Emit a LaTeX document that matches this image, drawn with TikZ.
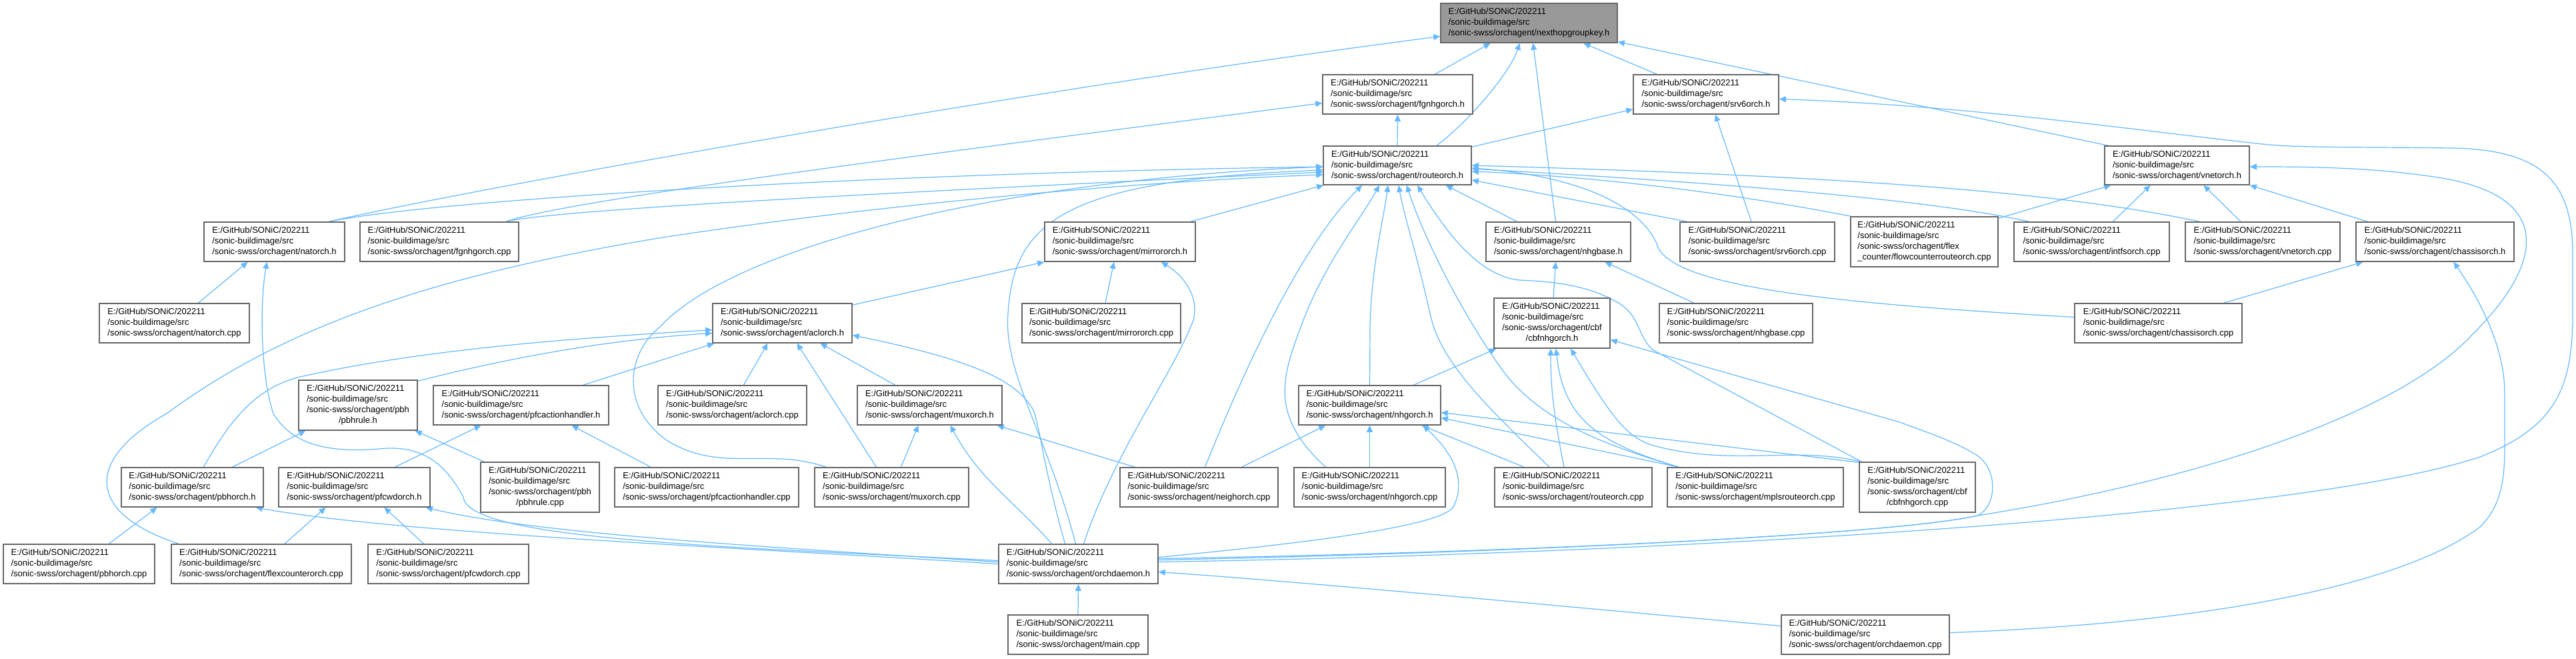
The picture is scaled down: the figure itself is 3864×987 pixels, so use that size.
\documentclass[tikz,border=0pt]{standalone}
\usepackage{fontspec}
\setmainfont{Liberation Sans}
\usetikzlibrary{arrows.meta}
\definecolor{edgeblue}{RGB}{99,184,255}
\definecolor{nodeborder}{RGB}{102,102,102}
\definecolor{rootfill}{RGB}{153,153,153}
\pgfdeclarelayer{bg}
\pgfsetlayers{bg,main}
\newcommand\three[1]{\begin{tabular}{@{}l@{}}E:/GitHub/SONiC/202211\\/sonic-buildimage/src\\/sonic-swss/orchagent/#1\end{tabular}}
\newcommand\four[2]{\begin{tabular}{@{}l@{}}E:/GitHub/SONiC/202211\\/sonic-buildimage/src\\/sonic-swss/orchagent/#1\\\multicolumn{1}{@{}c@{}}{#2}\end{tabular}}
\newcommand\nd[7][]{\pgfmathsetmacro\ndw{(#5-#3)*0.5}\pgfmathsetmacro\ndh{(#6-#4)*0.5}\node[nbox,#1,minimum width=\ndw pt,minimum height=\ndh pt] (#2) at ({(#3+#5)/2},{(#4+#6)/2}) {#7};}
\begin{document}
\begin{tikzpicture}[x=0.5pt,y=-0.5pt,
  nbox/.style={rectangle,draw=nodeborder,fill=white,line width=0.8pt,inner sep=0pt,font=\fontsize{6.5}{8}\selectfont},
  rootnode/.style={fill=rootfill},
  link/.style={draw=edgeblue,line width=0.6pt,-{Triangle[length=5pt,width=4.5pt]}}]
\useasboundingbox (0,0) rectangle (3864,987);
\nd[rootnode]{key}{2161}{5}{2426}{64}{\three{nexthopgroupkey.h}}
\nd{fgnhgh}{1984}{112}{2209}{171}{\three{fgnhgorch.h}}
\nd{srv6h}{2450}{112}{2668}{171}{\three{srv6orch.h}}
\nd{routeh}{1985}{219}{2207}{277}{\three{routeorch.h}}
\nd{vneth}{3157}{219}{3374}{277}{\three{vnetorch.h}}
\nd{nath}{306}{333}{517}{392}{\three{natorch.h}}
\nd{fgnhgcpp}{540}{333}{778}{392}{\three{fgnhgorch.cpp}}
\nd{mirrorh}{1567}{333}{1793}{392}{\three{mirrororch.h}}
\nd{nhgbaseh}{2229}{333}{2446}{392}{\three{nhgbase.h}}
\nd{srv6cpp}{2520}{333}{2752}{392}{\three{srv6orch.cpp}}
\nd{flexroute}{2776}{325}{2997}{400}{\four{flex}{\_counter/flowcounterrouteorch.cpp}}
\nd{intfscpp}{3021}{333}{3254}{392}{\three{intfsorch.cpp}}
\nd{vnetcpp}{3278}{333}{3510}{392}{\three{vnetorch.cpp}}
\nd{chassish}{3534}{333}{3771}{392}{\three{chassisorch.h}}
\nd{natcpp}{149}{455}{374}{514}{\three{natorch.cpp}}
\nd{aclh}{1069}{455}{1278}{514}{\three{aclorch.h}}
\nd{mirrorcpp}{1533}{455}{1771}{514}{\three{mirrororch.cpp}}
\nd{cbfh}{2241}{447}{2415}{522}{\four{cbf}{/cbfnhgorch.h}}
\nd{nhgbasecpp}{2489}{455}{2719}{514}{\three{nhgbase.cpp}}
\nd{chassiscpp}{3112}{455}{3363}{514}{\three{chassisorch.cpp}}
\nd{pbhruleh}{448}{570}{626}{645}{\four{pbh}{/pbhrule.h}}
\nd{pfcacth}{650}{578}{913}{637}{\three{pfcactionhandler.h}}
\nd{aclcpp}{987}{578}{1210}{637}{\three{aclorch.cpp}}
\nd{muxh}{1286}{578}{1503}{637}{\three{muxorch.h}}
\nd{nhgorchh}{1948}{578}{2161}{637}{\three{nhgorch.h}}
\nd{pbhorchh}{182}{701}{395}{760}{\three{pbhorch.h}}
\nd{pfcwdh}{418}{701}{645}{760}{\three{pfcwdorch.h}}
\nd{pbhrulecpp}{721}{693}{899}{768}{\four{pbh}{/pbhrule.cpp}}
\nd{pfcactcpp}{922}{701}{1198}{760}{\three{pfcactionhandler.cpp}}
\nd{muxcpp}{1222}{701}{1453}{760}{\three{muxorch.cpp}}
\nd{neighcpp}{1680}{701}{1917}{760}{\three{neighorch.cpp}}
\nd{nhgcpp}{1941}{701}{2168}{760}{\three{nhgorch.cpp}}
\nd{routecpp}{2242}{701}{2478}{760}{\three{routeorch.cpp}}
\nd{mplscpp}{2501}{701}{2765}{760}{\three{mplsrouteorch.cpp}}
\nd{cbfcpp}{2789}{693}{2963}{768}{\four{cbf}{/cbfnhgorch.cpp}}
\nd{pbhcpp}{5}{816}{232}{875}{\three{pbhorch.cpp}}
\nd{flexcntcpp}{257}{816}{527}{875}{\three{flexcounterorch.cpp}}
\nd{pfcwdcpp}{552}{816}{793}{875}{\three{pfcwdorch.cpp}}
\nd{orchdh}{1498}{816}{1737}{875}{\three{orchdaemon.h}}
\nd{maincpp}{1512}{922}{1722}{981}{\three{main.cpp}}
\nd{orchdcpp}{2672}{922}{2924}{981}{\three{orchdaemon.cpp}}
\begin{pgfonlayer}{bg}
% into nexthopgroupkey.h
\draw[link] ([shift={(82,0)}]nath.north) .. controls (700,285) and (1500,140) .. ([shift={(0,20)}]key.west);
\draw[link] ([shift={(56,0)}]fgnhgh.north) -- ([shift={(-58,0)}]key.south);
\draw[link] ([shift={(59,0)}]routeh.north) .. controls (2200,185) and (2265,110) .. ([shift={(-14,0)}]key.south);
\draw[link] ([shift={(-4,0)}]nhgbaseh.north) -- ([shift={(6,0)}]key.south);
\draw[link] ([shift={(-74,0)}]srv6h.north) -- ([shift={(82,0)}]key.south);
\draw[link] ([shift={(6,0)}]vneth.north west) -- ([shift={(0,-2)}]key.south east);
% routeorch.h outgoing
\draw[link] (routeh.north) -- (fgnhgh.south);
\draw[link] ([shift={(0,2)}]routeh.north east) -- ([shift={(0,-8)}]srv6h.south west);
% into srv6orch.h
\draw[link] ([shift={(-9,0)}]srv6cpp.north) -- ([shift={(14,0)}]srv6h.south);
\draw[link] ([shift={(0,-3)}]orchdh.east) .. controls (2500,830) and (3450,775) .. (3720,685) .. controls (3835,640) and (3859,580) .. (3859,470) -- (3859,380) .. controls (3859,270) and (3810,225) .. (3680,222) .. controls (3520,220) and (3440,222) .. (3385,215) .. controls (3200,195) and (2950,158) .. ([shift={(0,7)}]srv6h.east);
% into routeorch.h
\draw[link] ([shift={(82,0)}]nath.north) .. controls (650,300) and (1300,260) .. ([shift={(0,2)}]routeh.west);
\draw[link] ([shift={(100,0)}]fgnhgcpp.north) .. controls (850,300) and (1400,230) .. ([shift={(0,13)}]fgnhgh.west);
\draw[link] ([shift={(100,0)}]fgnhgcpp.north) .. controls (830,315) and (1300,290) .. ([shift={(0,10)}]routeh.west);
\draw[link] ([shift={(-124,0)}]flexcntcpp.north) .. controls (130,770) and (125,690) .. (250,620) .. controls (400,510) and (600,420) .. (1000,355) .. controls (1400,295) and (1800,268) .. ([shift={(0,14)}]routeh.west);
\draw[link] ([shift={(-4,0)}]orchdh.north) .. controls (1570,650) and (1505,560) .. (1512,470) .. controls (1520,330) and (1600,270) .. ([shift={(0,7)}]routeh.west);
\draw[link] ([shift={(-8,0)}]mirrorh.north east) -- ([shift={(1,0)}]routeh.south west);
\draw[link] ([shift={(18,0)}]muxcpp.north west) .. controls (1150,670) and (1080,710) .. (1000,660) .. controls (930,610) and (940,530) .. (990,490) .. controls (1100,370) and (1500,270) .. ([shift={(0,2)}]routeh.west);
\draw[link] ([shift={(9,0)}]neighcpp.north) .. controls (1880,520) and (1960,360) .. ([shift={(-53,0)}]routeh.south);
\draw[link] ([shift={(-66,0)}]nhgcpp.north) .. controls (1900,620) and (1925,560) .. (1955,480) .. controls (1990,390) and (2040,330) .. ([shift={(-27,0)}]routeh.south);
\draw[link] (nhgorchh.north) -- (2055,490) .. controls (2057,400) and (2075,330) .. ([shift={(-14,0)}]routeh.south);
\draw[link] ([shift={(-36,0)}]routecpp.north) .. controls (2220,600) and (2160,540) .. (2145,470) .. controls (2125,380) and (2105,320) .. ([shift={(2,0)}]routeh.south);
\draw[link] ([shift={(18,0)}]mplscpp.north west) .. controls (2380,660) and (2300,620) .. (2250,550) .. controls (2180,450) and (2130,340) .. ([shift={(14,0)}]routeh.south);
\draw[link] ([shift={(4,0)}]cbfcpp.north west) -- (2480,525) .. controls (2455,505) and (2462,470) .. (2420,450) .. controls (2380,428) and (2330,422) .. (2280,420) .. controls (2220,415) and (2170,350) .. ([shift={(30,0)}]routeh.south);
\draw[link] ([shift={(-62,0)}]nhgbaseh.north) -- ([shift={(-39,0)}]routeh.south east);
\draw[link] ([shift={(22,0)}]vnetcpp.north west) .. controls (3100,290) and (2800,265) .. (routeh.east);
\draw[link] ([shift={(23,0)}]intfscpp.north west) .. controls (2900,300) and (2600,275) .. ([shift={(0,5)}]routeh.east);
\draw[link] ([shift={(1,0)}]flexroute.north west) .. controls (2600,290) and (2400,265) .. ([shift={(0,9)}]routeh.east);
\draw[link] ([shift={(11,0)}]srv6cpp.north west) -- ([shift={(0,22)}]routeh.east);
\draw[link] ([shift={(0,-9)}]chassiscpp.west) .. controls (2750,455) and (2500,430) .. (2485,365) .. controls (2455,300) and (2350,262) .. ([shift={(0,4)}]routeh.east);
% into cbfnhgorch.h
\draw[link] ([shift={(66,0)}]nhgorchh.north) -- ([shift={(4,0)}]cbfh.south west);
\draw[link] ([shift={(-14,0)}]routecpp.north) .. controls (2330,620) and (2326,580) .. ([shift={(-2,0)}]cbfh.south);
\draw[link] ([shift={(18,0)}]mplscpp.north west) .. controls (2400,665) and (2345,630) .. ([shift={(6,0)}]cbfh.south);
\draw[link] ([shift={(4,0)}]cbfcpp.north west) .. controls (2690,668) and (2600,700) .. (2480,668) .. controls (2440,655) and (2420,630) .. ([shift={(28,0)}]cbfh.south);
\draw[link] ([shift={(0,-6)}]orchdh.east) .. controls (2300,828) and (2850,800) .. (2966,773) .. controls (2995,760) and (2998,705) .. (2966,683) .. controls (2930,660) and (2880,645) .. (2850,633) -- ([shift={(0,25)}]cbfh.east);
% into vnetorch.h
\draw[link] ([shift={(0,-8)}]orchdh.east) .. controls (2300,828) and (2850,800) .. (2966,773) .. controls (3300,720) and (3600,620) .. (3710,500) .. controls (3820,390) and (3830,290) .. (3650,265) .. controls (3550,250) and (3450,250) .. ([shift={(0,2)}]vneth.east);
\draw[link] ([shift={(18,0)}]chassish.north west) -- (vneth.south east);
\draw[link] ([shift={(0,3)}]flexroute.north east) -- ([shift={(10,0)}]vneth.south west);
\draw[link] ([shift={(32,0)}]intfscpp.north) -- ([shift={(-40,0)}]vneth.south);
\draw[link] ([shift={(-33,0)}]vnetcpp.north) -- ([shift={(40,0)}]vneth.south);
% into nhgorch.h
\draw[link] ([shift={(-55,0)}]neighcpp.north east) -- ([shift={(41,0)}]nhgorchh.south west);
\draw[link] (nhgcpp.north) -- (nhgorchh.south);
\draw[link] ([shift={(-74,0)}]routecpp.north) -- ([shift={(78,0)}]nhgorchh.south);
\draw[link] ([shift={(18,0)}]mplscpp.north west) -- ([shift={(0,19)}]nhgorchh.east);
\draw[link] ([shift={(0,1)}]cbfcpp.north west) -- ([shift={(0,11)}]nhgorchh.east);
\draw[link] ([shift={(0,-10)}]orchdh.east) .. controls (1950,815) and (2160,790) .. (2180,760) .. controls (2200,720) and (2180,680) .. ([shift={(80,0)}]nhgorchh.south);
% into nhgbase.h
\draw[link] ([shift={(2,0)}]cbfh.north) -- ([shift={(-4,0)}]nhgbaseh.south);
\draw[link] ([shift={(-63,0)}]nhgbasecpp.north) -- ([shift={(70,0)}]nhgbaseh.south);
% into mirrororch.h
\draw[link] ([shift={(6,0)}]mirrorcpp.north) -- ([shift={(-9,0)}]mirrorh.south);
\draw[link] ([shift={(0,3)}]aclh.north east) -- (mirrorh.south west);
\draw[link] ([shift={(8,0)}]orchdh.north) .. controls (1670,680) and (1760,560) .. (1790,480) .. controls (1800,440) and (1770,410) .. ([shift={(-52,0)}]mirrorh.south east);
% into aclorch.h
\draw[link] ([shift={(17,0)}]pbhorchh.north) .. controls (350,620) and (390,580) .. (450,565) .. controls (650,520) and (900,505) .. ([shift={(0,10)}]aclh.west);
\draw[link] ([shift={(0,2)}]pbhruleh.north east) .. controls (750,540) and (900,510) .. ([shift={(0,15)}]aclh.west);
\draw[link] ([shift={(-39,0)}]pfcacth.north east) -- ([shift={(3,0)}]aclh.south west);
\draw[link] ([shift={(17,0)}]aclcpp.north) -- ([shift={(-22,0)}]aclh.south);
\draw[link] ([shift={(-23,0)}]muxcpp.north) -- ([shift={(22,0)}]aclh.south);
\draw[link] ([shift={(-52,0)}]muxh.north) -- ([shift={(57,0)}]aclh.south);
\draw[link] ([shift={(-20,0)}]orchdh.north) .. controls (1565,700) and (1560,640) .. (1550,615) .. controls (1525,570) and (1460,540) .. ([shift={(0,18)}]aclh.east);
% into muxorch.h
\draw[link] ([shift={(14,0)}]muxcpp.north) -- ([shift={(-17,0)}]muxh.south);
\draw[link] ([shift={(-40,0)}]orchdh.north) .. controls (1520,750) and (1470,720) .. ([shift={(31,0)}]muxh.south);
\draw[link] ([shift={(23,0)}]neighcpp.north west) -- ([shift={(-8,0)}]muxh.south east);
% pbh
\draw[link] ([shift={(45,0)}]pbhcpp.north) -- ([shift={(-53,0)}]pbhorchh.south);
\draw[link] (orchdh.west) .. controls (1100,820) and (600,800) .. ([shift={(-12,0)}]pbhorchh.south east);
\draw[link] ([shift={(60,0)}]pbhorchh.north) -- ([shift={(11,0)}]pbhruleh.south west);
\draw[link] ([shift={(6,0)}]pbhrulecpp.north west) -- ([shift={(-4,0)}]pbhruleh.south east);
% pfc
\draw[link] ([shift={(61,0)}]pfcwdh.north) -- ([shift={(-60,0)}]pfcacth.south);
\draw[link] ([shift={(-84,0)}]pfcactcpp.north) -- ([shift={(76,0)}]pfcacth.south);
\draw[link] ([shift={(35,0)}]flexcntcpp.north) -- ([shift={(-43,0)}]pfcwdh.south);
\draw[link] ([shift={(-37,0)}]pfcwdcpp.north) -- ([shift={(45,0)}]pfcwdh.south);
\draw[link] ([shift={(0,-3)}]orchdh.west) .. controls (1150,820) and (800,800) .. ([shift={(-7,0)}]pfcwdh.south east);
% into natorch.h
\draw[link] ([shift={(0,-5)}]orchdh.west) .. controls (1100,820) and (700,810) .. (695,745) .. controls (670,700) and (640,670) .. (580,672) .. controls (500,680) and (440,670) .. (410,620) .. controls (390,560) and (390,450) .. ([shift={(-11,0)}]nath.south);
\draw[link] ([shift={(36,0)}]natcpp.north) -- ([shift={(-40,0)}]nath.south);
% orchdaemon
\draw[link] ([shift={(0,-13)}]orchdcpp.west) .. controls (2300,905) and (1950,872) .. ([shift={(0,12)}]orchdh.east);
\draw[link] (maincpp.north) -- (orchdh.south);
\draw[link] ([shift={(0,-3)}]orchdcpp.east) .. controls (3300,935) and (3600,880) .. (3720,790) .. controls (3760,750) and (3757,700) .. (3757,640) -- (3757,590) .. controls (3757,520) and (3720,450) .. ([shift={(28,0)}]chassish.south);
\draw[link] ([shift={(-28,0)}]chassiscpp.north east) -- ([shift={(11,0)}]chassish.south west);
\end{pgfonlayer}
\end{tikzpicture}
\end{document}
